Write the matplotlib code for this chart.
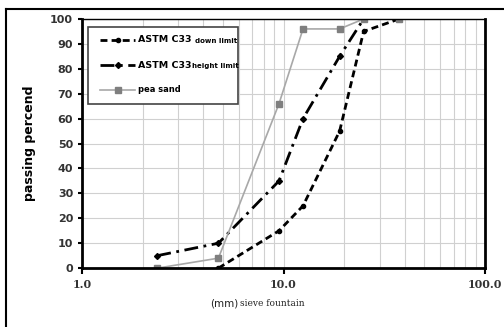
import matplotlib
matplotlib.use("Agg")
import matplotlib.pyplot as plt
from matplotlib.ticker import FixedLocator, NullFormatter
from matplotlib.font_manager import FontProperties
from matplotlib.lines import Line2D
from matplotlib.patches import Rectangle

# =========================
# data
# =========================
down_size = [4.75, 9.5, 12.5, 19.0, 25.0, 37.5]
down_pass = [0, 15, 25, 55, 95, 100]

up_size = [2.36, 4.75, 9.5, 12.5, 19.0, 25.0]
up_pass = [5, 10, 35, 60, 85, 100]

pea_size = [2.36, 4.75, 9.5, 12.5, 19.0, 25.0, 37.5]
pea_pass = [0, 4, 66, 96, 96, 100, 100]

x_ticks = [1.0, 10.0, 100.0]
x_tick_labels = ['1.0', '10.0', '100.0']
y_ticks = list(range(0, 101, 10))

# legend text: big part + small part
leg_main = ['ASTM C33', 'ASTM C33', 'pea sand']
leg_small = ['down limit', 'height limit', '']

# =========================
# figure
# =========================
fig = plt.figure(figsize=(5.04, 3.27), dpi=100)
ax = fig.add_axes([0.163, 0.180, 0.799, 0.762])

# outer frame (only top and left edge visible, picture is cropped)
fig.add_artist(Line2D([0.012, 1.0], [0.972, 0.972], transform=fig.transFigure,
                      color='black', linewidth=1.5))
fig.add_artist(Line2D([0.012, 0.012], [0.0, 0.972], transform=fig.transFigure,
                      color='black', linewidth=1.5))

styles = [
    dict(linestyle=(0, (2.5, 1.5)), color='black', linewidth=2, marker='o', markersize=3),
    dict(linestyle=(0, (5, 2, 1, 2)), color='black', linewidth=2, marker='D', markersize=3),
    dict(linestyle='-', color='#a8a8a8', linewidth=1.2, marker='s', markersize=5,
         markerfacecolor='#7f7f7f', markeredgecolor='#7f7f7f'),
]

ax.plot(down_size, down_pass, **styles[0])
ax.plot(up_size, up_pass, **styles[1])
ax.plot(pea_size, pea_pass, **styles[2])

ax.set_xscale('log')
ax.set_xlim(1, 100)
ax.set_ylim(0, 100)

ax.xaxis.set_major_locator(FixedLocator(x_ticks))
ax.set_xticklabels(x_tick_labels, family='DejaVu Serif', fontsize=8, fontweight='bold', color='#333333')
ax.xaxis.set_minor_formatter(NullFormatter())
ax.set_yticks(y_ticks)
ax.set_yticklabels([str(v) for v in y_ticks], fontsize=8, fontweight='bold', color='#333333')

ax.grid(True, which='both', axis='x', color='#d0d0d0', linewidth=0.8)
ax.grid(True, which='major', axis='y', color='#d0d0d0', linewidth=0.8)
ax.tick_params(axis='x', which='minor', length=0)
ax.tick_params(axis='x', which='major', length=4, width=1.5, pad=4)
ax.tick_params(axis='y', length=3, width=1.5)

for side in ['left', 'bottom', 'right']:
    ax.spines[side].set_linewidth(2)
ax.spines['top'].set_linewidth(1)

ax.set_ylabel('passing percend', fontsize=9, fontweight='bold', labelpad=10)

fig.text(0.472, 0.073, '(mm)', family='DejaVu Sans', fontsize=7.5, ha='right', va='center', color='#222222')
fig.text(0.477, 0.073, 'sieve fountain', family='DejaVu Serif', fontsize=6.5, ha='left', va='center', color='#222222')

# =========================
# legend drawn by hand (mixed font sizes in one label)
# =========================
ax.add_patch(Rectangle((0.015, 0.659), 0.372, 0.309, transform=ax.transAxes,
                       facecolor='white', edgecolor='#444444', linewidth=1.2, zorder=5))

big_size = 6.8
fig.canvas.draw()
renderer = fig.canvas.get_renderer()
big_prop = FontProperties(size=big_size, weight='bold')
w_big, _, _ = renderer.get_text_width_height_descent('ASTM C33', big_prop, ismath=False)
w_big_ax = w_big / ax.get_window_extent().width

entry_y = [0.916, 0.815, 0.715]
for i in range(3):
    y = entry_y[i]
    ax.add_line(Line2D([0.045, 0.088, 0.131], [y, y, y], transform=ax.transAxes,
                       markevery=[1], zorder=6, **styles[i]))
    if leg_small[i]:
        ax.text(0.139, y, leg_main[i], transform=ax.transAxes, fontsize=big_size,
                fontweight='bold', va='center', ha='left', zorder=7)
        gap = 0.008 if i == 0 else 0.002
        ax.text(0.139 + w_big_ax + gap, y - 0.003, leg_small[i], transform=ax.transAxes,
                fontsize=5, fontweight='bold', va='center', ha='left', zorder=7)
    else:
        ax.text(0.139, y, leg_main[i], transform=ax.transAxes, fontsize=6,
                fontweight='bold', va='center', ha='left', zorder=7)

plt.savefig('out.png', dpi=100)
